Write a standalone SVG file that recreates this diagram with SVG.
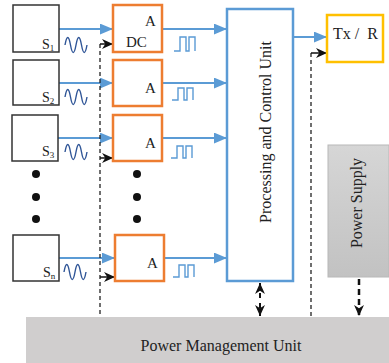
<svg xmlns="http://www.w3.org/2000/svg" width="389" height="363" viewBox="0 0 389 363">
<style>
.sensor{fill:#fff;stroke:#333;stroke-width:1.5}
.adc{fill:#fff;stroke:#ed7d31;stroke-width:2.5}
.t{font-family:"Liberation Serif","Times New Roman",serif;fill:#222}
.blue{stroke:#5b9bd5;stroke-width:2.2;fill:none}
.wave{stroke:#2f5597;stroke-width:1.4;fill:none}
.pulse{stroke:#5b9bd5;stroke-width:1.4;fill:none}
.dash{stroke:#222;stroke-width:1.3;stroke-dasharray:4 3;fill:none}
.blk{stroke:#111;stroke-width:1.5;fill:none}
.dot{fill:#111}
</style>
<defs>
<marker id="ab" viewBox="0 0 12 10" refX="12" refY="5" markerWidth="13" markerHeight="11" markerUnits="userSpaceOnUse" orient="auto">
<path d="M0,0 L12,5 L0,10 z" fill="#5b9bd5"/>
</marker>
<marker id="ak" viewBox="0 0 10 10" refX="10" refY="5" markerWidth="12" markerHeight="11" markerUnits="userSpaceOnUse" orient="auto-start-reverse">
<path d="M0,0.5 L10,5 L0,9.5 L3,5 z" fill="#111"/>
</marker>
<linearGradient id="ps" x1="0" y1="0" x2="0" y2="1">
<stop offset="0" stop-color="#d6d6d6"/>
<stop offset="1" stop-color="#c2c2c2"/>
</linearGradient>
<path id="wv" class="wave" d="M0,0 C1.8,-10 3.7,-10 5.5,0 C7.3,10 9.2,10 11,0 C12.8,-10 14.7,-10 16.5,0 C18.3,10 20.2,10 22,0"/>
</defs>

<g id="pmu">
<rect x="26" y="317" width="363" height="46" fill="#d0cece"/>
<text class="t" x="221" y="351" font-size="16" text-anchor="middle">Power Management Unit</text>
</g>

<g id="connectors">
<line class="blue" x1="59" y1="29" x2="113" y2="29" marker-end="url(#ab)"/>
<line class="blue" x1="59" y1="83" x2="113" y2="83" marker-end="url(#ab)"/>
<line class="blue" x1="58" y1="138" x2="113" y2="138" marker-end="url(#ab)"/>
<line class="blue" x1="59" y1="258" x2="115" y2="258" marker-end="url(#ab)"/>
<line class="blue" x1="162" y1="29" x2="227" y2="29" marker-end="url(#ab)"/>
<line class="blue" x1="162" y1="83" x2="227" y2="83" marker-end="url(#ab)"/>
<line class="blue" x1="162" y1="138" x2="227" y2="138" marker-end="url(#ab)"/>
<line class="blue" x1="164" y1="258" x2="227" y2="258" marker-end="url(#ab)"/>
<line class="blue" x1="293" y1="37" x2="327" y2="37" marker-end="url(#ab)"/>
<line class="dash" x1="100" y1="44" x2="100" y2="317"/>
<line class="blk" x1="100" y1="44" x2="113" y2="44" marker-end="url(#ak)"/>
<line class="blk" x1="100" y1="158" x2="113" y2="158" marker-end="url(#ak)"/>
<line class="blk" x1="100" y1="277" x2="115" y2="277" marker-end="url(#ak)"/>
<line class="dash" x1="311" y1="53" x2="311" y2="317"/>
<line class="blk" x1="311" y1="53" x2="327" y2="53" marker-end="url(#ak)"/>
<line x1="260" y1="283" x2="260" y2="316" stroke="#111" stroke-width="2" stroke-dasharray="5 5" marker-start="url(#ak)" marker-end="url(#ak)"/>
<line x1="359" y1="279" x2="359" y2="316" stroke="#111" stroke-width="2.5" stroke-dasharray="6 4" marker-end="url(#ak)"/>
</g>

<g id="sensor1">
<rect class="sensor" x="13" y="5" width="46" height="47"/>
<text class="t" x="42" y="49" font-size="14">S<tspan font-size="9" dy="2">1</tspan></text>
<use href="#wv" x="65" y="45"/>
</g>
<g id="sensor2">
<rect class="sensor" x="13" y="60" width="46" height="45"/>
<text class="t" x="42" y="102" font-size="14">S<tspan font-size="9" dy="2">2</tspan></text>
<use href="#wv" x="65" y="97"/>
</g>
<g id="sensor3">
<rect class="sensor" x="12" y="115" width="46" height="46"/>
<text class="t" x="42" y="156" font-size="14">S<tspan font-size="9" dy="2">3</tspan></text>
<use href="#wv" x="65" y="152"/>
</g>
<g id="sensorN">
<rect class="sensor" x="13" y="235" width="46" height="46"/>
<text class="t" x="43" y="277" font-size="14">S<tspan font-size="9" dy="2">n</tspan></text>
<use href="#wv" x="64" y="272"/>
</g>

<g id="dots">
<circle class="dot" cx="36" cy="174" r="4"/>
<circle class="dot" cx="36" cy="197" r="4"/>
<circle class="dot" cx="36" cy="219" r="4"/>
<circle class="dot" cx="137" cy="174" r="4"/>
<circle class="dot" cx="137" cy="197" r="4"/>
<circle class="dot" cx="137" cy="219" r="4"/>
</g>

<g id="adc1">
<rect class="adc" x="113" y="5" width="49" height="47"/>
<text class="t" x="145" y="26" font-size="15">A</text>
<text class="t" x="126" y="47" font-size="15">DC</text>
<path class="pulse" d="M174,51 H180 V37 H186 V51 H189 V37 H195 V51"/>
</g>
<g id="adc2">
<rect class="adc" x="113" y="60" width="49" height="46"/>
<text class="t" x="145" y="93" font-size="15">A</text>
<path class="pulse" d="M172,100 H178 V88 H184 V100 H187 V88 H193 V100"/>
</g>
<g id="adc3">
<rect class="adc" x="113" y="115" width="49" height="46"/>
<text class="t" x="145" y="148" font-size="15">A</text>
<path class="pulse" d="M171,158 H177 V146 H183 V158 H186 V146 H192 V158"/>
</g>
<g id="adcN">
<rect class="adc" x="115" y="235" width="49" height="46"/>
<text class="t" x="147" y="268" font-size="15">A</text>
<path class="pulse" d="M173,277 H179 V265 H185 V277 H188 V265 H194 V277"/>
</g>

<g id="processing">
<rect x="227" y="9" width="66" height="272" fill="#fff" stroke="#5b9bd5" stroke-width="2.5"/>
<text class="t" transform="translate(271,132) rotate(-90)" font-size="16" text-anchor="middle">Processing and Control Unit</text>
</g>

<g id="txr">
<rect x="327" y="15" width="56" height="47" fill="#fff" stroke="#ffc000" stroke-width="2.5"/>
<text class="t" x="333" y="39" font-size="16" xml:space="preserve">Tx /  R</text>
</g>

<g id="powersupply">
<rect x="328" y="145" width="61" height="132" fill="url(#ps)" stroke="#b8b8b8" stroke-width="1"/>
<text class="t" transform="translate(362,203) rotate(-90)" font-size="16" text-anchor="middle" fill="#333">Power Supply</text>
</g>
</svg>
